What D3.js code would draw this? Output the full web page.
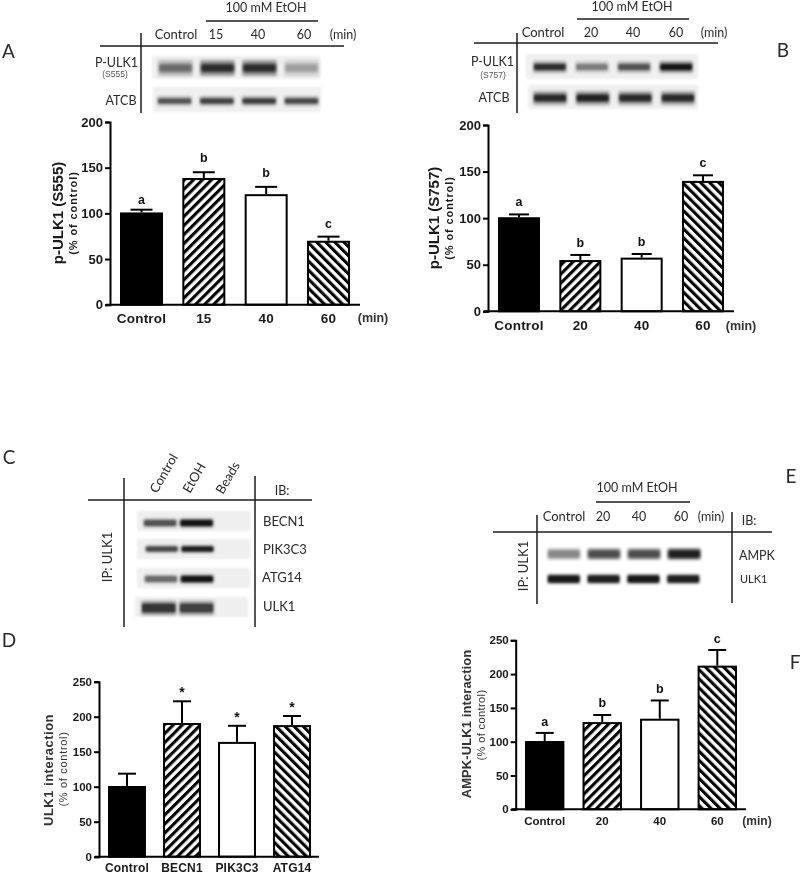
<!DOCTYPE html>
<html>
<head>
<meta charset="utf-8">
<script src="https://cdn.jsdelivr.net/npm/d3@7"></script>
<style>
html,body{margin:0;padding:0;background:#fff;}
svg{display:block;filter:blur(0.4px);}
</style>
</head>
<body>
<div id="chart"></div>
<script>
// ---- data ----
const catsA = ["Control","15","40","60"];
const valsA = [101,138.7,121,70];
const errTopA = [104,145,129,74.5];
const sigA = ["a","b","b","c"];

const catsB = ["Control","20","40","60"];
const valsB = [101,55,57.6,140];
const errTopB = [104,60.5,61.5,146];
const sigB = ["a","b","b","c"];

const catsD = ["Control","BECN1","PIK3C3","ATG14"];
const valsD = [101,191,164,188];
const errTopD = [118.6,222,187,201];
const sigD = ["","*","*","*"];

const catsF = ["Control","20","40","60"];
const valsF = [101,129,134,212.5];
const errTopF = [113,139.5,161,235.7];
const sigF = ["a","b","b","c"];

const ticks200 = [0,50,100,150,200];
const ticks250 = [0,50,100,150,200,250];
const fills = ["black","up","white","down"];

// blot band intensities, one per lane
const bandsA1 = [0.5,0.85,0.85,0.28];
const bandsA2 = [0.62,0.72,0.75,0.68];
const bandsB1 = [0.82,0.42,0.62,1];
const bandsB2 = [0.85,0.9,0.85,0.85];
const bandsC1 = [0.62,1,0.02];
const bandsC2 = [0.68,0.95,0];
const bandsC3 = [0.5,1,0];
const bandsC4 = [0.78,0.72,0];
const bandsE1 = [0.42,0.68,0.68,0.95];
const bandsE2 = [1,0.95,1,0.95];

// ---- layout ----
const W = 800, H = 879;
const svg = d3.select("#chart").append("svg").attr("width",W).attr("height",H).attr("viewBox",[0,0,W,H]);
const defs = svg.append("defs");
const SANS = "'Liberation Sans',Arial,sans-serif";
const LATO = "Lato,'Open Sans',sans-serif";

function hatch(id, angle){
  const p = defs.append("pattern").attr("id",id).attr("patternUnits","userSpaceOnUse")
    .attr("width",6.4).attr("height",6.4).attr("patternTransform",`rotate(${angle})`);
  p.append("rect").attr("width",6.4).attr("height",6.4).attr("fill","#fff");
  p.append("rect").attr("width",3.1).attr("height",6.4).attr("fill","#000");
}
hatch("up",45); hatch("down",-45);
[["b1",1.0],["b2",1.8],["bg",0.8]].forEach(([id,s])=>{
  defs.append("filter").attr("id",id).attr("x","-20%").attr("y","-80%").attr("width","140%").attr("height","260%")
    .append("feGaussianBlur").attr("stdDeviation",s);
});

function text(t,x,y,o={}){
  const el = svg.append("text").text(t).attr("x",x).attr("y",y)
    .attr("font-family",o.font||LATO).attr("font-size",o.size||12.5)
    .attr("font-weight",o.weight||"normal").attr("fill",o.fill||"#2a2a2a")
    .attr("text-anchor",o.anchor||"middle");
  if(o.ls) el.attr("letter-spacing",o.ls);
  if(o.rot!==undefined) el.attr("transform",`rotate(${o.rot} ${x} ${y})`);
  return el;
}
function line(x1,y1,x2,y2,w=1.3,c="#1c1c1c"){
  svg.append("line").attr("x1",x1).attr("y1",y1).attr("x2",x2).attr("y2",y2)
    .attr("stroke",c).attr("stroke-width",w);
}

function barChart(c){
  const g = svg.append("g");
  const y = d3.scaleLinear().domain([0,c.max]).range([c.y0,c.yTop]);
  const x = d3.scaleBand().domain(c.cats).range(c.xr).paddingInner(c.pad).paddingOuter(0);
  c.cats.forEach((cat,i)=>{
    const f = fills[i];
    g.append("rect").attr("x",x(cat)+1).attr("y",y(c.vals[i])+1)
      .attr("width",x.bandwidth()-2).attr("height",c.y0-y(c.vals[i])-1)
      .attr("fill",f==="up"||f==="down"?`url(#${f})`:f)
      .attr("stroke","#000").attr("stroke-width",2);
    const cx = x(cat)+x.bandwidth()/2;
    g.append("line").attr("x1",cx).attr("x2",cx).attr("y1",y(c.vals[i])).attr("y2",y(c.errTop[i]))
      .attr("stroke","#000").attr("stroke-width",2);
    g.append("line").attr("x1",cx-c.cap).attr("x2",cx+c.cap).attr("y1",y(c.errTop[i])).attr("y2",y(c.errTop[i]))
      .attr("stroke","#000").attr("stroke-width",2);
    if(c.sig[i]){
      const star = c.sig[i]==="*";
      text(c.sig[i],cx+(c.sigDx||0),y(c.errTop[i])-(c.gaps[i]),{font:SANS,weight:"bold",size:star?14:12.5,fill:"#111"});
    }
  });
  const ya = g.append("g").attr("transform",`translate(${c.xAxis},0)`)
    .call(d3.axisLeft(y).tickValues(c.ticks).tickSize(5).tickPadding(c.tickPad||2));
  ya.selectAll("path").attr("stroke","#000").attr("stroke-width",2);
  ya.selectAll("line").attr("stroke","#000").attr("stroke-width",2);
  ya.selectAll("text").attr("font-family",SANS).attr("font-weight","bold")
    .attr("font-size",c.tickSize).attr("fill","#1a1a1a");
  const xb = g.append("g").attr("transform",`translate(0,${c.y0})`)
    .call(d3.axisBottom(x).tickSize(0).tickPadding(c.catPad));
  xb.select("path").remove();
  xb.selectAll("text").attr("font-family",SANS).attr("font-weight","bold")
    .attr("font-size",c.catSize).attr("fill","#1a1a1a");
  if(c.catLs) xb.selectAll("text").attr("letter-spacing",c.catLs);
  g.append("line").attr("x1",c.xAxis-4).attr("x2",c.xEnd).attr("y1",c.y0).attr("y2",c.y0)
    .attr("stroke","#000").attr("stroke-width",2);
}

function blot(bg,row){
  if(bg) svg.append("rect").attr("x",bg[0]).attr("y",bg[1]).attr("width",bg[2]).attr("height",bg[3])
    .attr("fill",bg[4]||"#efefef").attr("filter","url(#bg)");
  const lanes = d3.scaleBand().domain(d3.range(row.vals.length)).range(row.xr).paddingInner(row.pad);
  const halo = row.halo||1.9;
  row.vals.forEach((v,i)=>{
    if(v<0.05){ return; }
    svg.append("rect").attr("x",lanes(i)).attr("y",row.y-row.h*halo/2)
      .attr("width",lanes.bandwidth()).attr("height",row.h*halo).attr("rx",2)
      .attr("fill","#000").attr("opacity",v*0.42).attr("filter","url(#b2)");
    svg.append("rect").attr("x",lanes(i)+1).attr("y",row.y-row.h/2)
      .attr("width",lanes.bandwidth()-2).attr("height",row.h).attr("rx",2)
      .attr("fill","#000").attr("opacity",v*0.85).attr("filter",`url(#${row.f||"b1"})`);
  });
}

// ---- Panel A ----
text("A",8.5,58,{size:19});
text("100 mM EtOH",266,12);
line(206,21,318,21);
text("Control",176,39,{size:13});
text("15",216,39); text("40",258,39); text("60",304,39); text("(min)",343,39);
line(100,46,344,46,1.5);
line(141,33,141,113,1.5);
text("P-ULK1",138,67,{anchor:"end",size:12.5});
text("(S555)",115,77,{font:SANS,size:8.5,fill:"#555"});
text("ATCB",121,105);
blot([152,56,169,23],{vals:bandsA1,xr:[158,319],pad:0.17,y:68,h:8,f:"b2",halo:2});
blot([153,87,168,25],{vals:bandsA2,xr:[157,319],pad:0.17,y:101,h:5});
barChart({cats:catsA,vals:valsA,errTop:errTopA,sig:sigA,gaps:[6,10,10,9],max:200,ticks:ticks200,
  y0:304.7,yTop:122,xr:[120,350],pad:0.31,xAxis:110,xEnd:360,cap:11,tickSize:13,catSize:13.5,catPad:9,catLs:0.2});
text("p-ULK1 (S555)",63,213,{font:SANS,weight:"bold",size:15,rot:-90,fill:"#1a1a1a"});
text("(% of control)",77,213,{font:SANS,weight:"bold",size:11,rot:-90,ls:0.9,fill:"#1a1a1a"});
text("(min)",373,322,{font:SANS,weight:"bold",size:12.5,fill:"#333"});

// ---- Panel B ----
text("B",783,57,{size:19});
text("100 mM EtOH",632,11);
line(577,19,689,19);
text("Control",543,37,{size:13});
text("20",591,37); text("40",633,37); text("60",676,37); text("(min)",714,37);
line(474,43,718,43,1.5);
line(517,33,517,113,1.5);
text("P-ULK1",514,66,{anchor:"end",size:12.5});
text("(S757)",493,78,{font:SANS,size:8.5,fill:"#555"});
text("ATCB",494,102);
blot([526,54,172,25],{vals:bandsB1,xr:[533,693],pad:0.2,y:67,h:6});
blot([528,85,170,24],{vals:bandsB2,xr:[533,695],pad:0.2,y:98,h:7});
barChart({cats:catsB,vals:valsB,errTop:errTopB,sig:sigB,gaps:[8,8,8,8],max:200,ticks:ticks200,
  y0:311.3,yTop:125,xr:[498,724],pad:0.315,xAxis:488,xEnd:734,cap:10,tickSize:13,catSize:13.5,catPad:9,catLs:0.2});
text("p-ULK1 (S757)",439,218,{font:SANS,weight:"bold",size:15,rot:-90,fill:"#1a1a1a"});
text("(% of control)",453,218,{font:SANS,weight:"bold",size:11,rot:-90,ls:0.9,fill:"#1a1a1a"});
text("(min)",741,330,{font:SANS,weight:"bold",size:12.5,fill:"#333"});

// ---- Panel C ----
text("C",9,464,{size:19});
text("Control",157,494,{anchor:"start",rot:-60,size:13});
text("EtOH",190,494,{anchor:"start",rot:-60,size:13});
text("Beads",223,495,{anchor:"start",rot:-60,size:13});
text("IB:",282,495);
line(88,500,312,500,1.5);
line(124,478,124,627,1.5);
line(255,476,255,627,1.5);
text("IP:  ULK1",112,557,{rot:-90,size:13});
blot([137,511,113,20],{vals:bandsC1,xr:[143,250],pad:0.06,y:523,h:6,halo:1.5});
blot([137,539,113,20],{vals:bandsC2,xr:[145,250],pad:0.06,y:549,h:5,halo:1.5});
blot([137,568,113,20],{vals:bandsC3,xr:[144,250],pad:0.06,y:579,h:6,halo:1.5});
blot([135,597,113,20],{vals:bandsC4,xr:[141,252],pad:0.06,y:608,h:9,halo:1.6});
text("BECN1",263,526,{anchor:"start",size:13});
text("PIK3C3",263,554,{anchor:"start",size:13});
text("ATG14",262,582,{anchor:"start",size:13});
text("ULK1",263,611,{anchor:"start",size:13});

// ---- Panel D ----
text("D",9,647,{size:19});
barChart({cats:catsD,vals:valsD,errTop:errTopD,sig:sigD,gaps:[0,4,4,4],max:250,ticks:ticks250,
  y0:856.7,yTop:681.7,xr:[108,311],pad:0.31,xAxis:99,xEnd:319,cap:9,tickSize:11.5,catSize:12,catPad:7,catLs:0.2});
text("ULK1 interaction",53,770,{font:SANS,weight:"bold",size:13,rot:-90,ls:0.5,fill:"#333"});
text("(% of control)",67,769,{font:SANS,size:11,rot:-90,ls:0.7,fill:"#333"});

// ---- Panel E ----
text("E",791,483,{size:19});
text("100 mM EtOH",637,492);
line(596,502,690,502);
text("Control",564,521,{size:13});
text("20",603,521); text("40",639,521); text("60",681,521); text("(min)",711,521);
text("IB:",749,525);
line(493,532,772,532,1.5);
line(537,515,537,604,1.5);
line(732,512,732,603,1.5);
text("IP:  ULK1",528,566,{rot:-90,size:13});
blot(null,{vals:bandsE1,xr:[547,701],pad:0.16,y:554,h:8,f:"b2",halo:1.5});
blot(null,{vals:bandsE2,xr:[547,700],pad:0.16,y:579,h:7,halo:1.4});
text("AMPK",739,560,{anchor:"start",size:12.5});
text("ULK1",740,583,{anchor:"start",size:11});

// ---- Panel F ----
text("F",795,669,{size:19});
barChart({cats:catsF,vals:valsF,errTop:errTopF,sig:sigF,gaps:[7,7.5,7,7],max:250,ticks:ticks250,
  y0:809.3,yTop:640.3,xr:[525,737],pad:0.315,xAxis:515.7,xEnd:746,cap:9,tickSize:11.5,catSize:11.5,catPad:8});
text("AMPK-ULK1 interaction",471,724,{font:SANS,weight:"bold",size:13,rot:-90,ls:0.1,fill:"#333"});
text("(% of control)",485,725,{font:SANS,size:11,rot:-90,ls:0.4,fill:"#333"});
text("(min)",757,825,{font:SANS,weight:"bold",size:12,fill:"#333"});
</script>
</body>
</html>
